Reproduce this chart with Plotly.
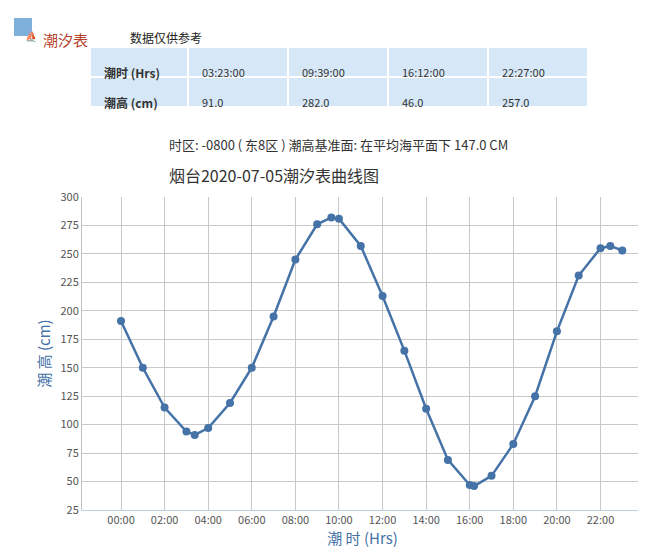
import plotly.graph_objects as go

hours = [0,1,2,3,3.383,4,5,6,7,8,9,9.65,10,11,12,13,14,15,16,16.2,17,18,19,20,21,22,22.45,23]
heights = [191,150,115,94,91,97,119,150,195,245,276,282,281,257,213,165,114,69,47,46,55,83,125,182,231,255,257,253]
tick_vals = list(range(0, 24, 2))
tick_text = [f"{h:02d}:00" for h in tick_vals]
tide_times = ["03:23:00", "09:39:00", "16:12:00", "22:27:00"]
tide_heights = ["91.0", "282.0", "46.0", "257.0"]

W, H = 646, 548
L, R, T, B = 74, 635, 189, 502
def px(x): return (x - L) / (R - L)
def py(y): return (B - y) / (B - T)

fig = go.Figure(go.Scatter(x=hours, y=heights, mode="lines+markers",
    line=dict(color="#4572a7", width=2.5), marker=dict(color="#4572a7", size=8)))

shapes, ann = [], []
font = "Noto Sans CJK SC"
def A(**k):
    k.setdefault("xref", "paper"); k.setdefault("yref", "paper"); k.setdefault("showarrow", False)
    ann.append(k)
shapes.append(dict(type="rect", xref="paper", yref="paper", x0=px(6), x1=px(24), y0=py(28), y1=py(10),
                   fillcolor="#7fb0dc", line=dict(width=0), layer="above"))
A(x=px(15), y=py(19), text="⛵", font=dict(color="white", size=10))
A(x=px(33), y=py(19), xanchor="left", text="潮汐表", font=dict(family=font, size=15, color="#b5402a"))
A(x=px(120), y=py(19), xanchor="left", text="数据仅供参考", font=dict(family=font, size=12, color="#222"))
cols = [82, 180, 280, 380, 480, 580]
rows = [39, 69, 99]
for r in range(2):
    for c in range(5):
        shapes.append(dict(type="rect", xref="paper", yref="paper",
            x0=px(cols[c]+1), x1=px(cols[c+1]-1), y0=py(rows[r+1]-1), y1=py(rows[r]+1),
            fillcolor="#d6e7f7", line=dict(width=0), layer="below"))
labels = [["潮时 (Hrs)"] + tide_times, ["潮高 (cm)"] + tide_heights]
for r in range(2):
    for c in range(5):
        A(x=px(cols[c]+12), y=py((rows[r]+rows[r+1])/2), xanchor="left",
          text=("<b>%s</b>" % labels[r][c]) if c == 0 else labels[r][c],
          font=dict(family=font, size=12 if c == 0 else 11, color="#333"))
A(x=px(330), y=py(125), text="时区: -0800 ( 东8区 ) 潮高基准面: 在平均海平面下 147.0 CM",
  font=dict(family=font, size=13, color="#333"))

fig.update_layout(
    width=W, height=H, margin=dict(l=L, r=W - R, t=T, b=H - B, autoexpand=False),
    paper_bgcolor="white", plot_bgcolor="white", showlegend=False,
    title=dict(text="烟台2020-07-05潮汐表曲线图", x=px(305), xanchor="center", y=1 - 168 / H, yanchor="middle",
               font=dict(family=font, size=16, color="#333")),
    xaxis=dict(range=[-1.79, 23.95], tickvals=tick_vals, ticktext=tick_text, showgrid=True, gridcolor="#c8c8c8",
               zeroline=False, showline=True, linecolor="#c0d0e0", automargin=False,
               tickfont=dict(family=font, size=11, color="#555"),
               title=dict(text="潮 时 (Hrs)", font=dict(family=font, size=15, color="#4572a7"), standoff=4)),
    yaxis=dict(range=[25, 300], dtick=25, showgrid=True, gridcolor="#c8c8c8", zeroline=False, automargin=False,
               showline=True, linecolor="#c0c0c0", tickfont=dict(family=font, size=11, color="#555"),
               title=dict(text="潮 高 (cm)", font=dict(family=font, size=15, color="#4572a7"), standoff=6)),
    shapes=shapes, annotations=ann,
)
fig.write_html("out.html")
